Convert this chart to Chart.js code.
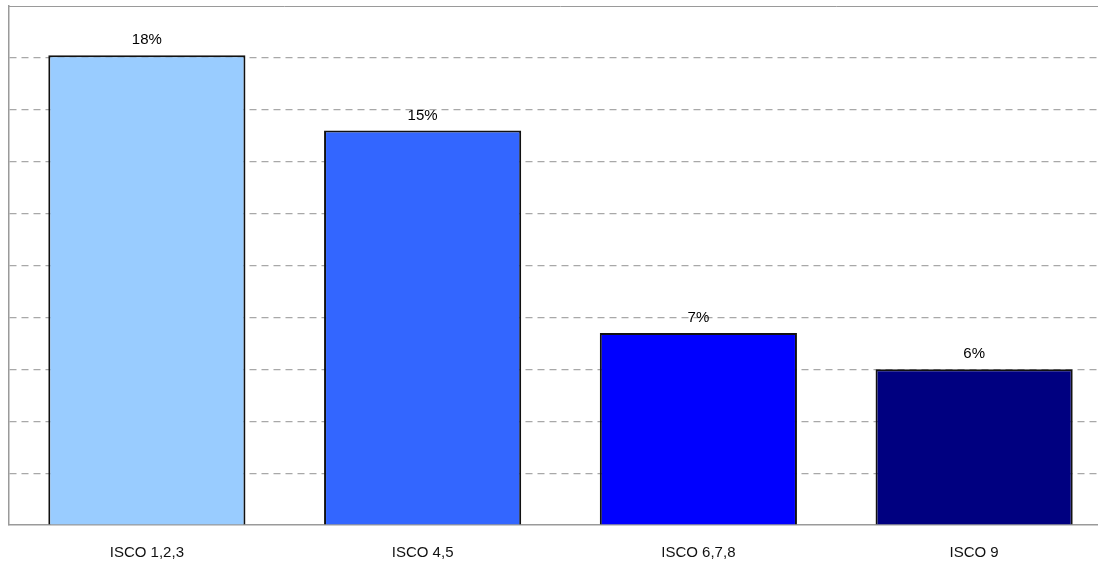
<!DOCTYPE html>
<html>
<head>
<meta charset="utf-8">
<script src="https://cdn.jsdelivr.net/npm/chart.js@4/dist/chart.umd.min.js"></script>
<style>
    html, body { margin: 0; padding: 0; background: #fff; overflow: hidden; }
    #wrap { position: relative; width: 1112px; height: 576px; }
</style>
</head>
<body>
<div id="wrap"><canvas id="iscoChart"></canvas></div>
<script>
// values (percent)
const categories = ['ISCO 1,2,3', 'ISCO 4,5', 'ISCO 6,7,8', 'ISCO 9'];
const shares = [18.1, 15.2, 7.4, 6.0];
const barColors = ['#99CCFF', '#3366FF', '#0000FF', '#000080'];
const yTicks = [0, 2, 4, 6, 8, 10, 12, 14, 16, 18, 20];

const labelFont = '15px "Liberation Sans", Arial, sans-serif';

// frame on top and value labels over the bars
const framePlugin = {
    id: 'frame',
    afterDraw(chart) {
        const ctx = chart.ctx;
        const area = chart.chartArea;
        ctx.save();
        ctx.strokeStyle = '#9a9a9a';
        ctx.lineWidth = 1;
        ctx.beginPath();
        ctx.moveTo(area.left, area.top + 0.5);
        ctx.lineTo(chart.width, area.top + 0.5);
        ctx.stroke();

        ctx.fillStyle = '#000';
        ctx.font = labelFont;
        ctx.textAlign = 'center';
        ctx.textBaseline = 'middle';
        chart.getDatasetMeta(0).data.forEach((bar, i) => {
            ctx.fillText(Math.round(shares[i]) + '%', bar.x, bar.y - 15);
        });
        ctx.restore();
    }
};

new Chart(document.getElementById('iscoChart'), {
    type: 'bar',
    data: {
        labels: categories,
        datasets: [
            {
                data: shares,
                backgroundColor: barColors,
                borderColor: '#111',
                borderWidth: 2,
                categoryPercentage: 1,
                barPercentage: 0.715,
            }
        ]
    },
    options: {
        responsive: true,
        maintainAspectRatio: false,
        animation: false,
        layout: {
            padding: { left: 9, top: 6, right: 0, bottom: 0 }
        },
        plugins: {
            legend: { display: false },
            tooltip: { enabled: false }
        },
        scales: {
            x: {
                afterFit(scale) {
                    scale.height = 51;
                },
                grid: { display: false, drawTicks: false },
                border: { color: '#9a9a9a', width: 1.5 },
                ticks: {
                    color: '#111',
                    font: { family: '"Liberation Sans", Arial, sans-serif', size: 15 },
                    padding: 19,
                    maxRotation: 0
                }
            },
            y: {
                min: yTicks[0],
                max: yTicks[yTicks.length - 1],
                afterBuildTicks(scale) {
                    scale.ticks = yTicks.map((value) => ({ value }));
                },
                ticks: { display: false },
                grid: {
                    drawTicks: false,
                    color: (c) => (c.tick && c.tick.value > 0 && c.tick.value < 20 ? '#a8a8a8' : 'rgba(0,0,0,0)'),
                    lineWidth: 1.2
                },
                border: { display: true, color: '#9a9a9a', width: 1.5, dash: [7, 5] }
            }
        }
    },
    plugins: [framePlugin]
});
</script>
</body>
</html>
